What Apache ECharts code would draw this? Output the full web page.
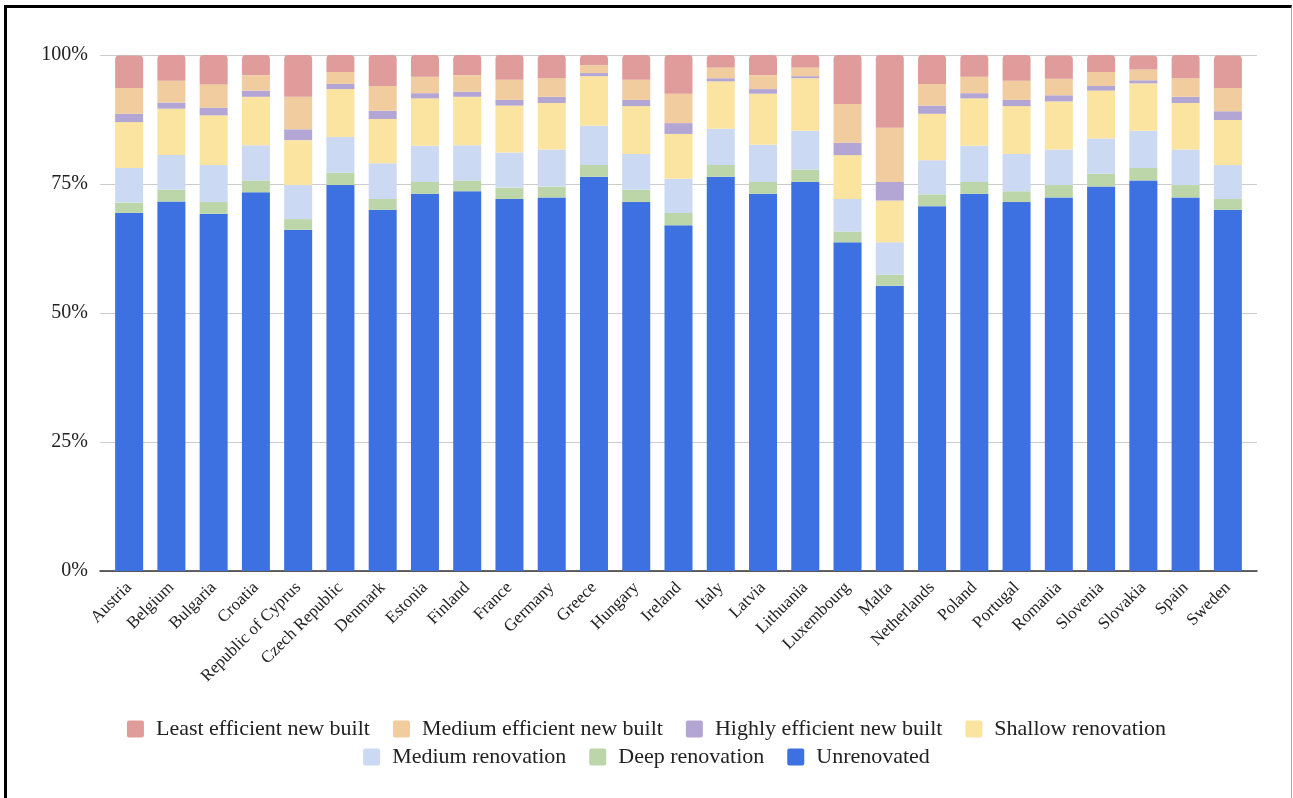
<!DOCTYPE html>
<html>
<head>
<meta charset="utf-8">
<title>Building stock by renovation state</title>
<script src="https://cdn.jsdelivr.net/npm/echarts@6/dist/echarts.min.js"></script>
<style>
    body { margin: 0; background: #fff; }
    #frame {
        position: absolute; left: 4px; top: 5px;
        width: 1284px; height: 820px;
        border-left: 3px solid #000; border-top: 3px solid #000;
        border-right: 1px solid #aaa;
    }
    #main { position: absolute; left: 0; top: 0; width: 1293px; height: 798px; }
</style>
</head>
<body>
<div id="frame"></div>
<div id="main"></div>
<script>
// DATA ------------------------------------------------------------------
var countries = ['Austria', 'Belgium', 'Bulgaria', 'Croatia', 'Republic of Cyprus', 'Czech Republic',
    'Denmark', 'Estonia', 'Finland', 'France', 'Germany', 'Greece', 'Hungary', 'Ireland', 'Italy',
    'Latvia', 'Lithuania', 'Luxembourg', 'Malta', 'Netherlands', 'Poland', 'Portugal', 'Romania',
    'Slovenia', 'Slovakia', 'Spain', 'Sweden'];

// shares in %, bottom to top
var unrenovated = [69.4, 71.6, 69.2, 73.4, 66.1, 74.8, 70.0, 73.1, 73.6, 72.1, 72.4, 76.4, 71.5, 67.0,
    76.4, 73.1, 75.4, 63.7, 55.3, 70.7, 73.1, 71.5, 72.4, 74.5, 75.7, 72.4, 70.0];
var deepRenovation = [2.0, 2.3, 2.3, 2.3, 2.1, 2.4, 2.1, 2.3, 2.1, 2.2, 2.1, 2.3, 2.4, 2.4,
    2.3, 2.3, 2.4, 2.1, 2.1, 2.3, 2.3, 2.1, 2.4, 2.5, 2.4, 2.4, 2.1];
var mediumRenovation = [6.7, 6.7, 7.2, 6.8, 6.6, 6.9, 6.9, 7.0, 6.8, 6.8, 7.2, 7.6, 6.9, 6.6,
    7.0, 7.2, 7.5, 6.3, 6.3, 6.6, 7.0, 7.2, 6.9, 6.8, 7.2, 6.9, 6.6];
var shallowRenovation = [8.9, 9.0, 9.6, 9.4, 8.7, 9.3, 8.6, 9.2, 9.4, 9.1, 9.0, 9.6, 9.3, 8.7,
    9.2, 9.9, 10.2, 8.5, 8.1, 9.0, 9.2, 9.3, 9.3, 9.3, 9.2, 9.0, 8.7];
var highlyEfficient = [1.6, 1.2, 1.5, 1.2, 2.1, 1.0, 1.6, 1.0, 1.0, 1.1, 1.2, 0.6, 1.2, 2.1,
    0.6, 0.9, 0.4, 2.4, 3.6, 1.6, 1.0, 1.2, 1.2, 0.9, 0.6, 1.2, 1.7];
var mediumEfficient = [5.0, 4.2, 4.5, 3.0, 6.3, 2.3, 4.8, 3.2, 3.2, 3.9, 3.6, 1.5, 3.9, 5.7,
    2.1, 2.7, 1.7, 7.5, 10.5, 4.2, 3.2, 3.7, 3.2, 2.7, 2.1, 3.6, 4.5];
var leastEfficient = [6.3, 5.0, 5.7, 3.9, 8.1, 3.3, 6.0, 4.2, 3.9, 4.8, 4.5, 2.1, 4.8, 7.5,
    2.4, 3.9, 2.4, 9.6, 14.1, 5.6, 4.2, 5.0, 4.5, 3.3, 2.7, 4.5, 6.3];

var yTicks = [0, 25, 50, 75, 100];

// SERIES ----------------------------------------------------------------
var FONT = '"Liberation Serif", "Times New Roman", serif';
var SQUARE = 'path://M2,0 H15 Q17,0 17,2 V15 Q17,17 15,17 H2 Q0,17 0,15 V2 Q0,0 2,0 Z';

var layers = [
    { name: 'Unrenovated', data: unrenovated, color: '#3d70e0' },
    { name: 'Deep renovation', data: deepRenovation, color: '#bcd6aa' },
    { name: 'Medium renovation', data: mediumRenovation, color: '#cbd9f3' },
    { name: 'Shallow renovation', data: shallowRenovation, color: '#fae49f' },
    { name: 'Highly efficient new built', data: highlyEfficient, color: '#b3a6d4' },
    { name: 'Medium efficient new built', data: mediumEfficient, color: '#f0cc9e' },
    { name: 'Least efficient new built', data: leastEfficient, color: '#e09c9a' }
];

var series = layers.map(function (l, i) {
    return {
        name: l.name,
        type: 'bar',
        stack: 'total',
        xAxisIndex: 1,
        yAxisIndex: 1,
        barWidth: 28,
        data: l.data,
        itemStyle: {
            color: l.color,
            borderRadius: i === layers.length - 1 ? [4, 4, 0, 0] : 0
        }
    };
});

var legendText = { fontFamily: FONT, fontSize: 22, color: '#222', padding: [0, 0, 0, 7] };

var chart = echarts.init(document.getElementById('main'));
var option = {
    animation: false,
    // grid 0 carries the frame lines (grid lines run a bit past the bars), grid 1 the bars
    grid: [
        { left: 100, right: 36, top: 55, bottom: 227 },
        { left: 108, right: 44, top: 55, bottom: 227 }
    ],
    legend: [{
        data: ['Least efficient new built', 'Medium efficient new built',
            'Highly efficient new built', 'Shallow renovation'],
        left: 'center', top: 713,
        itemWidth: 17, itemHeight: 17, itemGap: 23,
        icon: SQUARE,
        textStyle: legendText
    }, {
        data: ['Medium renovation', 'Deep renovation', 'Unrenovated'],
        left: 'center', top: 741,
        itemWidth: 17, itemHeight: 17, itemGap: 23,
        icon: SQUARE,
        textStyle: legendText
    }],
    xAxis: [{
        type: 'category',
        gridIndex: 0,
        data: [],
        axisTick: { show: false },
        axisLabel: { show: false },
        axisLine: { lineStyle: { color: '#333', width: 1.5 } }
    }, {
        type: 'category',
        gridIndex: 1,
        data: countries,
        axisTick: { show: false },
        axisLine: { show: false },
        axisLabel: {
            rotate: 45,
            interval: 0,
            margin: 14,
            fontFamily: FONT,
            fontSize: 17,
            color: '#222'
        }
    }],
    yAxis: [{
        type: 'value',
        gridIndex: 0,
        min: yTicks[0],
        max: yTicks[yTicks.length - 1],
        interval: 25,
        axisLabel: {
            formatter: '{value}%',
            margin: 12,
            fontFamily: FONT,
            fontSize: 20,
            color: '#222'
        },
        splitLine: { lineStyle: { color: '#ccc', width: 1.2 } }
    }, {
        type: 'value',
        gridIndex: 1,
        min: yTicks[0],
        max: yTicks[yTicks.length - 1],
        show: false
    }],
    series: series
};

chart.setOption(option);
</script>
</body>
</html>
